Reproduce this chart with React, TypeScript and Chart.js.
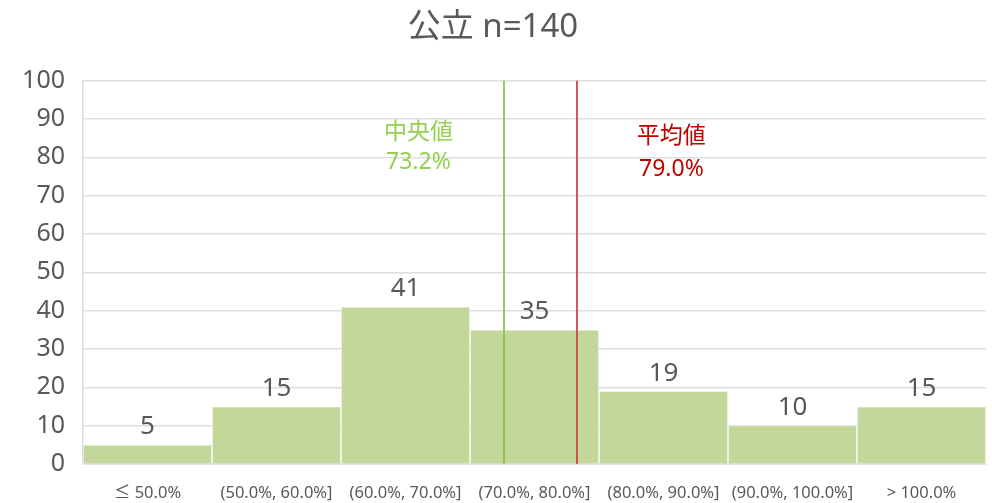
import React, { useEffect, useRef } from "react";
import { Chart, registerables } from "chart.js";

Chart.register(...registerables);

const TITLE = "公立 n=140";
const categories = [
  "≤ 50.0%",
  "(50.0%, 60.0%]",
  "(60.0%, 70.0%]",
  "(70.0%, 80.0%]",
  "(80.0%, 90.0%]",
  "(90.0%, 100.0%]",
  "> 100.0%",
];
const counts = [5, 15, 41, 35, 19, 10, 15];
const yMin = 0;
const yMax = 100;
const yStep = 10;
const medianValue = 73.2;
const meanValue = 79.0;
const medianLabel = ["中央値", "73.2%"];
const meanLabel = ["平均値", "79.0%"];
// hidden continuous score axis (percent) used to place the median / mean lines
const scoreAxisMin = 39.75;
const scoreAxisMax = 111.5;
// label anchor positions in data units (score %, count)
const medianLabelPos = { x: 66.4, y1: 86.4, y2: 78.6 };
const meanLabelPos = { x: 86.5, y1: 85.4, y2: 76.8 };

const FONT = "'Noto Sans', 'Noto Sans CJK JP', sans-serif";
const TEXT = "#595959";
const BAR = "#c4d79b";
const GREEN = "#8fc052";
const GREEN_TEXT = "#92d050";
const RED = "#d04545";
const RED_TEXT = "#c00000";
const GRID = "#dedede";

const labelPlugin = {
  id: "labels",
  afterDatasetsDraw(chart: any) {
    const ctx = chart.ctx;
    const meta = chart.getDatasetMeta(0);
    ctx.save();
    ctx.fillStyle = TEXT;
    ctx.font = `26px ${FONT}`;
    ctx.textAlign = "center";
    ctx.textBaseline = "middle";
    meta.data.forEach((el: any, i: number) => {
      ctx.fillText(String(counts[i]), el.x, el.y - 18);
    });
    const xs = chart.scales.xv;
    const ys = chart.scales.y;
    ctx.font = `23px ${FONT}`;
    ctx.fillStyle = GREEN_TEXT;
    ctx.fillText(medianLabel[0], xs.getPixelForValue(medianLabelPos.x), ys.getPixelForValue(medianLabelPos.y1));
    ctx.fillText(medianLabel[1], xs.getPixelForValue(medianLabelPos.x), ys.getPixelForValue(medianLabelPos.y2));
    ctx.fillStyle = RED_TEXT;
    ctx.fillText(meanLabel[0], xs.getPixelForValue(meanLabelPos.x), ys.getPixelForValue(meanLabelPos.y1));
    ctx.fillText(meanLabel[1], xs.getPixelForValue(meanLabelPos.x), ys.getPixelForValue(meanLabelPos.y2));
    ctx.restore();
  },
};

export default function App() {
  const ref = useRef<HTMLCanvasElement>(null);
  useEffect(() => {
    document.body.style.margin = "0";
    const chart = new Chart(ref.current as HTMLCanvasElement, {
      type: "bar",
      data: {
        labels: categories,
        datasets: [
          {
            type: "bar",
            data: counts,
            backgroundColor: BAR,
            borderColor: "rgba(255,255,255,0.45)",
            borderWidth: 1,
            barPercentage: 1,
            categoryPercentage: 1,
            grouped: false,
            xAxisID: "x",
            yAxisID: "y",
            order: 2,
          } as any,
          {
            type: "line",
            data: [
              { x: medianValue, y: yMin },
              { x: medianValue, y: yMax },
            ],
            borderColor: GREEN,
            borderWidth: 1.8,
            pointRadius: 0,
            xAxisID: "xv",
            yAxisID: "y",
            order: 1,
          } as any,
          {
            type: "line",
            data: [
              { x: meanValue, y: yMin - 1 },
              { x: meanValue, y: yMax },
            ],
            borderColor: RED,
            borderWidth: 1.8,
            pointRadius: 0,
            xAxisID: "xv",
            yAxisID: "y",
            order: 0,
          } as any,
        ],
      },
      options: {
        animation: false,
        responsive: false,
        maintainAspectRatio: false,
        layout: { padding: { left: 0, right: 6, top: 0, bottom: 0 } },
        plugins: {
          legend: { display: false },
          tooltip: { enabled: false },
          title: {
            display: true,
            text: TITLE,
            color: TEXT,
            font: { family: FONT, size: 33, weight: "normal" },
            padding: { top: 8, bottom: 33 },
          },
        },
        scales: {
          x: {
            type: "category",
            offset: true,
            grid: { display: false, drawTicks: false },
            border: { display: true, color: GRID, width: 1.5 },
            ticks: {
              color: TEXT,
              font: { family: FONT, size: 16.5 },
              padding: 19,
              maxRotation: 0,
              autoSkip: false,
            },
            afterFit(scale: any) {
              scale.height = 39;
            },
          },
          xv: {
            type: "linear",
            display: false,
            offset: false,
            min: scoreAxisMin,
            max: scoreAxisMax,
          },
          y: {
            min: yMin,
            max: yMax,
            ticks: {
              stepSize: yStep,
              color: TEXT,
              font: { family: FONT, size: 25 },
              padding: 18,
            },
            grid: { color: GRID, lineWidth: 1.5, drawTicks: false },
            border: { display: true, color: GRID, width: 1.5 },
            afterFit(scale: any) {
              scale.width = 83;
            },
          },
        },
      },
      plugins: [labelPlugin],
    });
    return () => chart.destroy();
  }, []);
  return (
    <div style={{ width: 992, height: 503, background: "#fff" }}>
      <canvas ref={ref} width={992} height={503} />
    </div>
  );
}
